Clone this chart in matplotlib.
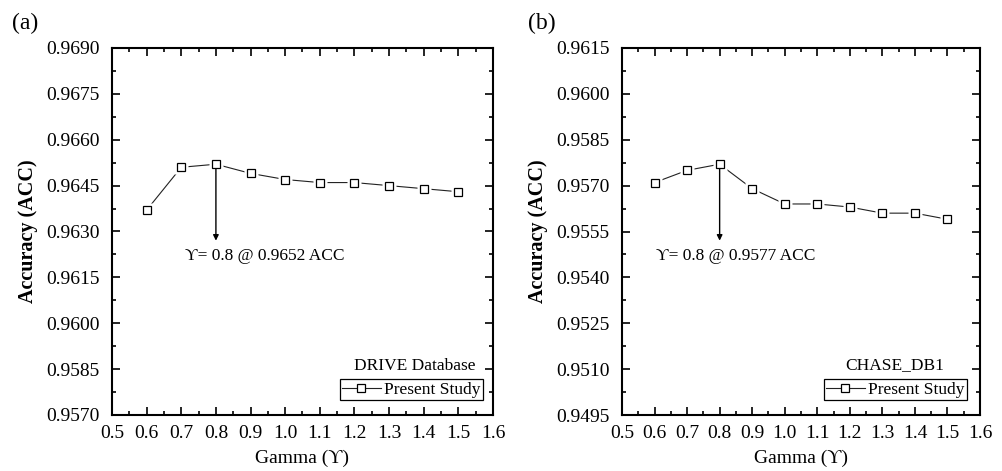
import numpy as np
import matplotlib
matplotlib.use("Agg")
import matplotlib.pyplot as plt
from matplotlib.ticker import MultipleLocator, FormatStrFormatter

plt.rcParams['font.family'] = ['Liberation Serif', 'DejaVu Serif']

gamma = [0.6, 0.7, 0.8, 0.9, 1.0, 1.1, 1.2, 1.3, 1.4, 1.5]
acc_drive = [0.9637, 0.9651, 0.9652, 0.9649, 0.9647, 0.9646, 0.9646, 0.9645, 0.9644, 0.9643]
acc_chase = [0.9571, 0.9575, 0.9577, 0.9569, 0.9564, 0.9564, 0.9563, 0.9561, 0.9561, 0.9559]

panels = [
    dict(tag="(a)", y=acc_drive, ylim=(0.9570, 0.9690), db="DRIVE Database",
         note="\u03d2= 0.8 @ 0.9652 ACC", best=(0.8, 0.9652), note_xy=(0.942, 0.9622),
         rect=[112/1003, 56/471, 381/1003, 367/471], tag_x=12/1003,
         db_xy=(0.795, 0.134), leg_x=0.974),
    dict(tag="(b)", y=acc_chase, ylim=(0.9495, 0.9615), db="CHASE_DB1",
         note="\u03d2= 0.8 @ 0.9577 ACC", best=(0.8, 0.9577), note_xy=(0.849, 0.9547),
         rect=[622/1003, 56/471, 358/1003, 367/471], tag_x=528/1003,
         db_xy=(0.763, 0.136), leg_x=0.964),
]

fig = plt.figure(figsize=(10.03, 4.71), dpi=100)

for p in panels:
    ax = fig.add_axes(p["rect"])
    # line, then white squares to leave a small gap, then the open markers
    line, = ax.plot(gamma, p["y"], color="#222222", lw=0.8, marker="s", ms=5.5,
                    mfc="white", mec="black", mew=0.9, label="Present Study", zorder=2)
    ax.plot(gamma, p["y"], ls="none", marker="s", ms=10, mfc="white", mec="none", zorder=3)
    ax.plot(gamma, p["y"], ls="none", marker="s", ms=5.5, mfc="white", mec="black",
            mew=0.9, zorder=4)

    ax.set_xlim(0.5, 1.6)
    ax.set_ylim(*p["ylim"])
    ax.xaxis.set_major_locator(MultipleLocator(0.1))
    ax.xaxis.set_minor_locator(MultipleLocator(0.05))
    ax.yaxis.set_major_locator(MultipleLocator(0.0015))
    ax.yaxis.set_minor_locator(MultipleLocator(0.00075))
    ax.xaxis.set_major_formatter(FormatStrFormatter("%.1f"))
    ax.yaxis.set_major_formatter(FormatStrFormatter("%.4f"))
    ax.tick_params(which="both", direction="in", top=True, right=True, width=1.2,
                   labelsize=14, colors="black")
    ax.tick_params(which="major", length=6)
    ax.tick_params(which="minor", length=3)
    ax.tick_params(axis="y", pad=9)
    ax.tick_params(axis="x", pad=7)
    for s in ax.spines.values():
        s.set_linewidth(1.5)

    ax.set_xlabel("Gamma (\u03d2)", fontsize=14, labelpad=6)
    ax.set_ylabel("Accuracy (ACC)", fontsize=14.5, fontweight="bold", labelpad=6)

    # arrow from best point downward and its note
    bx, by = p["best"]
    ax.annotate("", xy=(bx, by - 0.0025), xytext=(bx, by - 0.00012),
                arrowprops=dict(arrowstyle="-|>", lw=1, color="black", mutation_scale=8,
                                shrinkA=0, shrinkB=0))
    ax.text(p["note_xy"][0], p["note_xy"][1], p["note"], fontsize=12.5,
            ha="center", va="center")

    leg = ax.legend(loc="lower right", bbox_to_anchor=(p["leg_x"], 0.04), fontsize=12.5,
                    handlelength=2.2, handletextpad=0.2, borderpad=0.15,
                    borderaxespad=0, fancybox=False, framealpha=1)
    leg.get_frame().set_edgecolor("black")
    leg.get_frame().set_linewidth(0.9)
    ax.text(p["db_xy"][0], p["db_xy"][1], p["db"], transform=ax.transAxes,
            fontsize=12.5, ha="center", va="center")

    fig.text(p["tag_x"], 1 - 23/471, p["tag"], fontsize=17, va="center")

fig.savefig("out.png", dpi=100)
